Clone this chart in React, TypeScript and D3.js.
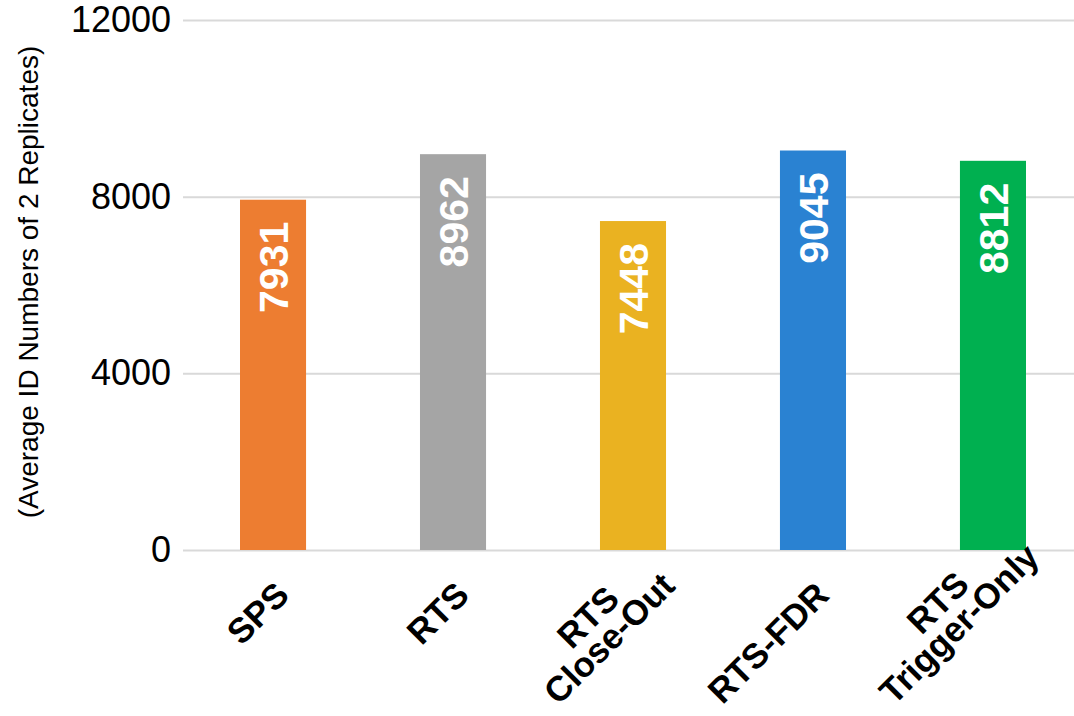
import * as d3 from "d3";
import React, { useRef, useEffect } from "react";

// chart data
const categories = ["SPS", "RTS", "RTS\nClose-Out", "RTS-FDR", "RTS\nTrigger-Only"];
const values = [7931, 8962, 7448, 9045, 8812];
const barColors = ["#ED7D31", "#A5A5A5", "#EAB221", "#2A82D2", "#00B050"];
const yTicks = [0, 4000, 8000, 12000];
const yTitle = "(Average ID Numbers of 2 Replicates)";

function App() {
    const svgRef = useRef<SVGSVGElement>(null);
    const width = 1074;
    const height = 716;
    const plotLeft = 183; // left edge of gridlines
    const plotTop = 20; // y of top gridline
    const plotBottom = 550; // y of zero line
    const font = "'Liberation Sans', Arial, Helvetica, sans-serif";

    useEffect(() => {
        const svg = d3.select(svgRef.current);
        svg.selectAll("*").remove(); // clear previous rendering

        svg.append("rect")
            .attr("width", width)
            .attr("height", height)
            .attr("fill", "#fff");

        const xScale = d3.scaleBand<string>()
            .domain(categories)
            .range([plotLeft, plotLeft + 900])
            .paddingInner(0.633)
            .paddingOuter(0.3167);

        const yScale = d3.scaleLinear()
            .domain([0, 12000])
            .range([plotBottom, plotTop]);

        // y axis with gridlines
        const yAxis = d3.axisLeft(yScale)
            .tickValues(yTicks)
            .tickFormat(d3.format("d"))
            .tickSize(-(width - plotLeft))
            .tickPadding(12);

        const ga = svg.append("g")
            .attr("transform", `translate(${plotLeft},0)`)
            .call(yAxis);
        ga.select(".domain").remove();
        ga.selectAll("line")
            .attr("stroke", "#d9d9d9")
            .attr("stroke-width", 2);
        ga.selectAll("text")
            .attr("fill", "#000")
            .style("font-family", font)
            .style("font-size", "36px");

        // y title
        svg.append("text")
            .attr("transform", `translate(38, 282) rotate(-90)`)
            .attr("text-anchor", "middle")
            .style("font-family", font)
            .style("font-size", "28px")
            .attr("fill", "#000")
            .text(yTitle);

        // bars
        const bar = svg.selectAll(".bar-group")
            .data(values)
            .enter()
            .append("g")
            .attr("class", "bar-group");

        bar.append("rect")
            .attr("x", (v, i) => xScale(categories[i]) as number)
            .attr("y", v => yScale(v))
            .attr("width", xScale.bandwidth())
            .attr("height", v => plotBottom - yScale(v))
            .attr("fill", (v, i) => barColors[i]);

        bar.append("text")
            .text(v => String(v))
            .attr("transform", (v, i) => {
                const cx = (xScale(categories[i]) as number) + xScale.bandwidth() / 2;
                return `translate(${cx + 15},${yScale(v) + 22}) rotate(-90)`;
            })
            .attr("text-anchor", "end")
            .style("font-family", font)
            .style("font-weight", "bold")
            .style("font-size", "41px")
            .attr("fill", "#fff");

        // rotated category labels
        const lineStep = 30;
        const bottomLimit = 711;
        categories.forEach((c, i) => {
            const cx = (xScale(c) as number) + xScale.bandwidth() / 2;
            const ax = cx + 18;
            const ay = plotBottom + 47;
            const g = svg.append("g")
                .attr("transform", `translate(${ax},${ay}) rotate(-45)`);
            const lines = c.split("\n");
            const texts = lines.map((ln, j) => g.append("text")
                .text(ln)
                .attr("y", j * lineStep)
                .attr("text-anchor", "middle")
                .style("font-family", font)
                .style("font-weight", "bold")
                .style("font-size", "35px")
                .attr("fill", "#000"));
            const w = d3.max(texts, t => (t.node() as SVGTextElement).getComputedTextLength()) || 0;
            texts.forEach(t => t.attr("x", -w / 2));
            const box = (g.node() as SVGGElement).getBoundingClientRect();
            const excess = Math.max(0, box.bottom - bottomLimit);
            if (excess > 0) {
                g.attr("transform", `translate(${ax + excess * 0.15},${ay - excess}) rotate(-45)`);
            }
        });
    }, []);

    return (
        <div>
            <svg ref={svgRef} width={width} height={height}
                style={{ position: "absolute", left: 0, top: 0, display: "block" }}>
            </svg>
        </div>
    );
}

export default App;
